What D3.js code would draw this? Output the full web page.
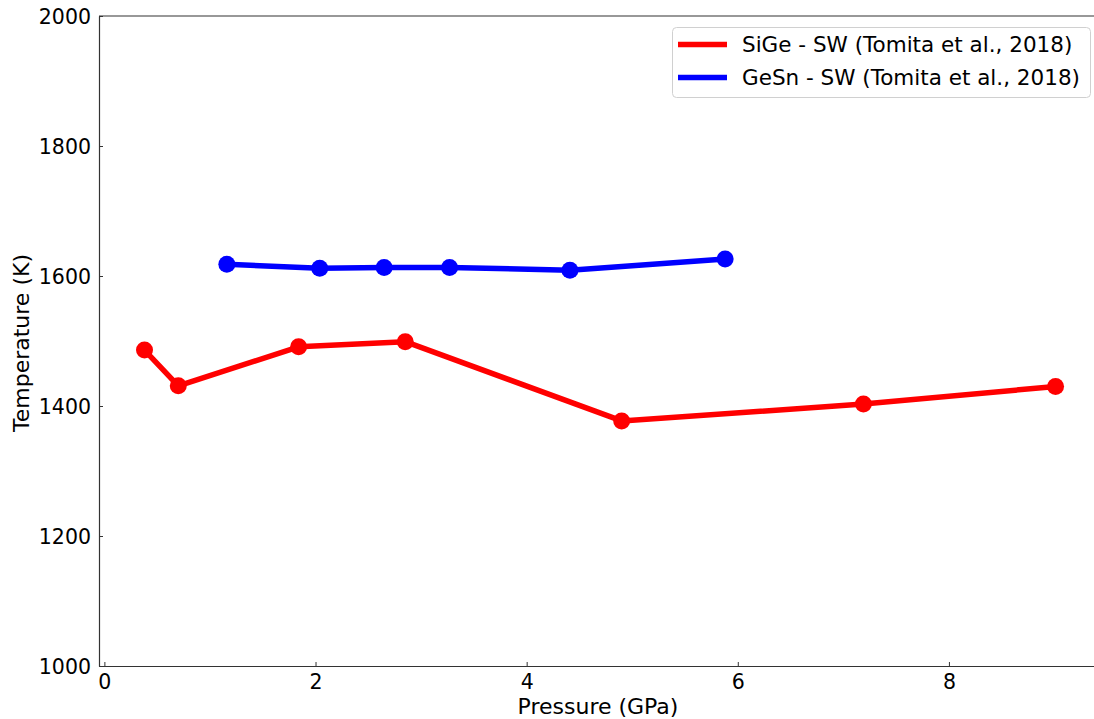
<!DOCTYPE html>
<html>
<head>
<meta charset="utf-8">
<script src="https://cdn.jsdelivr.net/npm/d3@7"></script>
<style>
  html, body { margin: 0; padding: 0; background: #fff; }
  svg { display: block; font-family: "DejaVu Sans", sans-serif; }
</style>
</head>
<body>
<svg id="chart" width="1094" height="719"></svg>
<script>
// ---- data ----
const sigePressure = [0.38, 0.70, 1.84, 2.85, 4.90, 7.19, 9.01];
const sigeTemp     = [1486, 1431, 1491, 1499, 1377, 1403, 1430];
const gesnPressure = [1.16, 2.04, 2.65, 3.27, 4.41, 5.88];
const gesnTemp     = [1618, 1612, 1613, 1613, 1609, 1626];
const seriesNames  = ["SiGe - SW (Tomita et al., 2018)", "GeSn - SW (Tomita et al., 2018)"];
const seriesColors = ["#ff0000", "#0000ff"];
const xTicks = [0, 2, 4, 6, 8];
const yTicks = [1000, 1200, 1400, 1600, 1800, 2000];

(function () {
const svg = d3.select("#chart");
const mL = 99, mR = 1100, mT = 16, mB = 666;

const x = d3.scaleLinear().domain([-0.051, 9.431]).range([mL, mR]);
const y = d3.scaleLinear().domain([1000, 2000]).range([mB, mT]);

// axes (ticks pointing inward)
const xAxis = d3.axisBottom(x).tickValues(xTicks).tickSizeInner(-4).tickSizeOuter(0).tickPadding(8).tickFormat(d3.format("d"));
const yAxis = d3.axisLeft(y).tickValues(yTicks).tickSizeInner(-4).tickSizeOuter(0).tickPadding(8).tickFormat(d3.format("d"));

const gx = svg.append("g").attr("transform", `translate(0,${mB})`).call(xAxis);
const gy = svg.append("g").attr("transform", `translate(${mL},0)`).call(yAxis);
[gx, gy].forEach(g => {
  g.selectAll("text").attr("font-size", 20.5).attr("fill", "#000").attr("font-family", "DejaVu Sans");
  g.selectAll("line").attr("stroke", "#333");
  g.select(".domain").attr("stroke", "#333").attr("stroke-width", 1.2);
});
gx.selectAll("text").attr("dy", "0.75em");
gy.selectAll("text").attr("dy", "0.36em");

// top and right spines
svg.append("line").attr("x1", mL).attr("x2", mR).attr("y1", mT).attr("y2", mT)
  .attr("stroke", "#333").attr("stroke-width", 1.2);
svg.append("line").attr("x1", mR).attr("x2", mR).attr("y1", mT).attr("y2", mB)
  .attr("stroke", "#333").attr("stroke-width", 1.2);

// axis labels
svg.append("text").attr("x", 598).attr("y", 714).attr("text-anchor", "middle")
  .attr("font-size", 22).attr("fill", "#000").text("Pressure (GPa)");
svg.append("text").attr("transform", `translate(29,343) rotate(-90)`)
  .attr("text-anchor", "middle").attr("font-size", 22).attr("fill", "#000").text("Temperature (K)");

// series
const series = [
  { px: sigePressure, t: sigeTemp, color: seriesColors[0] },
  { px: gesnPressure, t: gesnTemp, color: seriesColors[1] }
];
const line = d3.line().x(d => x(d[0])).y(d => y(d[1]));
series.forEach(s => {
  const pts = s.px.map((p, i) => [p, s.t[i]]);
  svg.append("path").datum(pts).attr("d", line).attr("fill", "none")
    .attr("stroke", s.color).attr("stroke-width", 5.5).attr("stroke-linejoin", "round");
  svg.append("g").selectAll("circle").data(pts).join("circle")
    .attr("cx", d => x(d[0])).attr("cy", d => y(d[1])).attr("r", 8.5).attr("fill", s.color);
});

// legend
const lg = svg.append("g");
lg.append("rect").attr("x", 672.5).attr("y", 27.5).attr("width", 418).attr("height", 70)
  .attr("rx", 4).attr("fill", "#fff").attr("fill-opacity", 0.8).attr("stroke", "#d0d0d0");
seriesNames.forEach((name, i) => {
  const yy = 44.5 + i * 33;
  lg.append("line").attr("x1", 678).attr("x2", 727).attr("y1", yy).attr("y2", yy)
    .attr("stroke", seriesColors[i]).attr("stroke-width", 5.5);
  lg.append("text").attr("x", 742).attr("y", yy).attr("dy", "0.36em")
    .attr("font-size", 21.5).attr("fill", "#000").text(name);
});
})();
</script>
</body>
</html>
